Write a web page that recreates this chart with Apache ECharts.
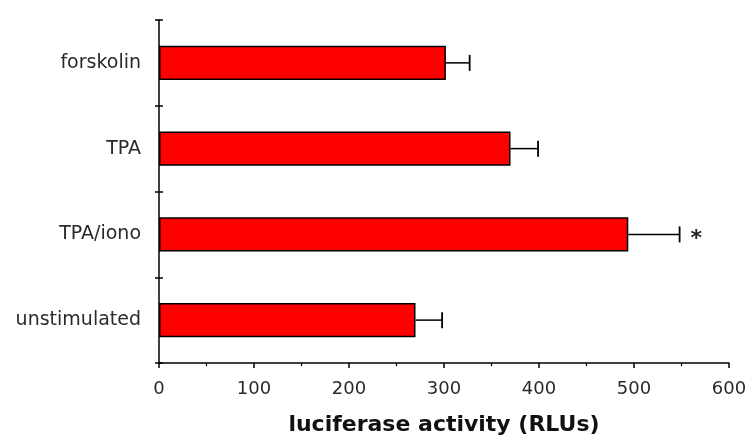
<!DOCTYPE html>
<html>
<head>
<meta charset="utf-8">
<script src="https://cdn.jsdelivr.net/npm/echarts@6/dist/echarts.min.js"></script>
<style>html,body{margin:0;padding:0;background:#fff}#c{width:750px;height:437px}</style>
</head>
<body>
<div id="c"></div>
<script>
var categories = ['unstimulated', 'TPA/iono', 'TPA', 'forskolin'];
var values = [270, 494, 370, 302];
var errors = [28, 54, 29, 25];
var marks = ['', '*', '', ''];
var xTicks = [0, 100, 200, 300, 400, 500, 600];

var chart = echarts.init(document.getElementById('c'));
var errData = categories.map(function (c, i) { return [i, values[i], errors[i], marks[i]]; });
var font = '"DejaVu Sans", sans-serif';
chart.setOption({
  animation: false,
  grid: { left: 159, right: 21, top: 20, bottom: 74, containLabel: false, outerBoundsMode: 'none' },
  xAxis: {
    type: 'value', min: xTicks[0], max: xTicks[xTicks.length - 1], interval: 100,
    axisLine: { show: true, lineStyle: { color: '#000', width: 1.5 } },
    axisTick: { show: true, length: 5, lineStyle: { color: '#000', width: 1.5 } },
    minorTick: { show: true, splitNumber: 2, length: 3, lineStyle: { color: '#000', width: 1.2 } },
    splitLine: { show: false },
    axisLabel: { color: '#2a2a2a', fontSize: 18, fontFamily: font, margin: 17 },
    name: 'luciferase activity (RLUs)', nameLocation: 'middle', nameGap: 51,
    nameTextStyle: { color: '#111', fontSize: 22, fontWeight: 'bold', fontFamily: font }
  },
  yAxis: [{
    type: 'category', data: categories,
    axisLine: { show: true, lineStyle: { color: '#000', width: 1.5 } },
    axisTick: { show: true, length: 4, lineStyle: { color: '#000', width: 1.5 } },
    axisLabel: { color: '#2a2a2a', fontSize: 19, fontFamily: font, margin: 18 }
  }, {
    type: 'category', data: categories, position: 'left',
    axisLine: { show: false },
    axisTick: { show: true, inside: true, length: 4, lineStyle: { color: '#000', width: 1.5 } },
    axisLabel: { show: false }
  }],
  series: [{
    type: 'bar', data: values, barCategoryGap: '60%',
    itemStyle: { color: '#ff0000', borderColor: '#000', borderWidth: 1.5 }
  }, {
    type: 'custom', data: errData,
    encode: { x: 1, y: 0 },
    renderItem: function (params, api) {
      var idx = api.value(0), v = api.value(1), e = api.value(2);
      var m = marks[idx];
      var p0 = api.coord([v, idx]);
      var p1 = api.coord([v + e, idx]);
      var cap = 8;
      var children = [
        { type: 'line', shape: { x1: p0[0], y1: p0[1], x2: p1[0], y2: p1[1] }, style: { stroke: '#000', lineWidth: 1.5 } },
        { type: 'line', shape: { x1: p1[0], y1: p1[1] - cap, x2: p1[0], y2: p1[1] + cap }, style: { stroke: '#000', lineWidth: 1.8 } }
      ];
      if (m) {
        children.push({ type: 'text', x: p1[0] + 11, y: p1[1] + 5, style: { text: m, fill: '#222', font: 'bold 22px ' + font, align: 'left', verticalAlign: 'middle' } });
      }
      return { type: 'group', children: children };
    },
    z: 3
  }]
});
</script>
</body>
</html>
